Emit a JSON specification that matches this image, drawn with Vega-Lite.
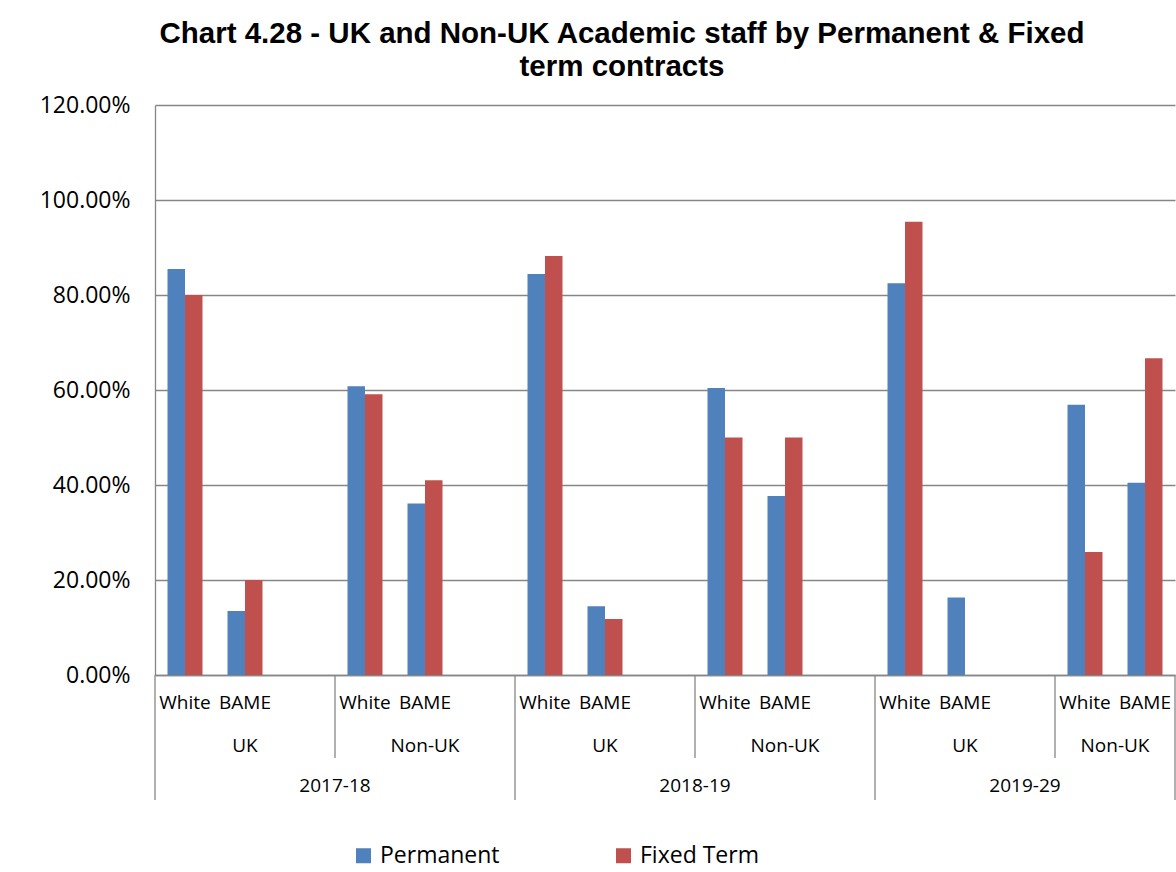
{
  "$schema": "https://vega.github.io/schema/vega-lite/v6.json",
  "width": 1020,
  "height": 570,
  "autosize": {"type": "none"},
  "padding": {"left": 155, "top": 105, "right": 1, "bottom": 197},
  "background": "white",
  "config": {"view": {"stroke": null}, "font": "Open Sans"},
  "title": {
    "text": ["Chart 4.28 - UK and Non-UK Academic staff by Permanent & Fixed", "term contracts"],
    "font": "Liberation Sans",
    "fontSize": 29.5,
    "fontWeight": "bold",
    "lineHeight": 33,
    "color": "black",
    "anchor": "middle",
    "dx": -43,
    "offset": 12
  },
  "datasets": {
    "bars": [
      {"cat": "2017-18|UK|White", "contract": "Permanent", "share": 0.855},
      {"cat": "2017-18|UK|White", "contract": "Fixed Term", "share": 0.800},
      {"cat": "2017-18|UK|BAME", "contract": "Permanent", "share": 0.135},
      {"cat": "2017-18|UK|BAME", "contract": "Fixed Term", "share": 0.200},
      {"cat": "2017-18|Non-UK|White", "contract": "Permanent", "share": 0.608},
      {"cat": "2017-18|Non-UK|White", "contract": "Fixed Term", "share": 0.591},
      {"cat": "2017-18|Non-UK|BAME", "contract": "Permanent", "share": 0.361},
      {"cat": "2017-18|Non-UK|BAME", "contract": "Fixed Term", "share": 0.410},
      {"cat": "2018-19|UK|White", "contract": "Permanent", "share": 0.844},
      {"cat": "2018-19|UK|White", "contract": "Fixed Term", "share": 0.882},
      {"cat": "2018-19|UK|BAME", "contract": "Permanent", "share": 0.145},
      {"cat": "2018-19|UK|BAME", "contract": "Fixed Term", "share": 0.118},
      {"cat": "2018-19|Non-UK|White", "contract": "Permanent", "share": 0.604},
      {"cat": "2018-19|Non-UK|White", "contract": "Fixed Term", "share": 0.500},
      {"cat": "2018-19|Non-UK|BAME", "contract": "Permanent", "share": 0.377},
      {"cat": "2018-19|Non-UK|BAME", "contract": "Fixed Term", "share": 0.500},
      {"cat": "2019-29|UK|White", "contract": "Permanent", "share": 0.825},
      {"cat": "2019-29|UK|White", "contract": "Fixed Term", "share": 0.954},
      {"cat": "2019-29|UK|BAME", "contract": "Permanent", "share": 0.163},
      {"cat": "2019-29|UK|BAME", "contract": "Fixed Term", "share": 0.0},
      {"cat": "2019-29|Non-UK|White", "contract": "Permanent", "share": 0.569},
      {"cat": "2019-29|Non-UK|White", "contract": "Fixed Term", "share": 0.259},
      {"cat": "2019-29|Non-UK|BAME", "contract": "Permanent", "share": 0.405},
      {"cat": "2019-29|Non-UK|BAME", "contract": "Fixed Term", "share": 0.667}
    ],
    "natMid": [
      {"cat": "2017-18|UK|BAME", "label": "UK"},
      {"cat": "2017-18|Non-UK|BAME", "label": "Non-UK"},
      {"cat": "2018-19|UK|BAME", "label": "UK"},
      {"cat": "2018-19|Non-UK|BAME", "label": "Non-UK"},
      {"cat": "2019-29|UK|BAME", "label": "UK"}
    ],
    "natEdge": [
      {"cat": "2019-29|Non-UK|BAME", "label": "Non-UK"}
    ],
    "yearMid": [
      {"cat": "2019-29|UK| ", "label": "2019-29"}
    ],
    "yearEdge": [
      {"cat": "2017-18|Non-UK|White", "label": "2017-18"},
      {"cat": "2018-19|Non-UK|White", "label": "2018-19"}
    ],
    "natSep": [
      {"cat": "2017-18|Non-UK|White"},
      {"cat": "2018-19|Non-UK|White"},
      {"cat": "2019-29|Non-UK|White"}
    ],
    "yearSep": [
      {"cat": "2017-18|UK|White"},
      {"cat": "2018-19|UK|White"},
      {"cat": "2019-29|UK|White"}
    ],
    "endSep": [
      {"cat": "2019-29|Non-UK|BAME"}
    ]
  },
  "layer": [
    {
      "data": {"name": "bars"},
      "mark": {"type": "bar"},
      "encoding": {
        "x": {
          "field": "cat",
          "type": "nominal",
          "sort": null,
          "scale": {
            "domain": [
              "2017-18|UK|White", "2017-18|UK|BAME", "2017-18|UK| ",
              "2017-18|Non-UK|White", "2017-18|Non-UK|BAME", "2017-18|Non-UK| ",
              "2018-19|UK|White", "2018-19|UK|BAME", "2018-19|UK| ",
              "2018-19|Non-UK|White", "2018-19|Non-UK|BAME", "2018-19|Non-UK| ",
              "2019-29|UK|White", "2019-29|UK|BAME", "2019-29|UK| ",
              "2019-29|Non-UK|White", "2019-29|Non-UK|BAME"
            ],
            "paddingInner": 0,
            "paddingOuter": 0
          },
          "axis": {
            "title": null,
            "labelExpr": "split(datum.value, '|')[2]",
            "labelAngle": 0,
            "labelFont": "Open Sans",
            "labelFontSize": 19,
            "labelColor": "black",
            "labelBaseline": "alphabetic",
            "labelPadding": 33,
            "ticks": false,
            "tickSize": 0,
            "domainColor": "#868686",
            "domainWidth": 1.3,
            "grid": false
          }
        },
        "xOffset": {
          "field": "contract",
          "type": "nominal",
          "sort": ["Permanent", "Fixed Term"],
          "scale": {"domain": ["Permanent", "Fixed Term"], "paddingInner": 0, "paddingOuter": 0.714}
        },
        "y": {
          "field": "share",
          "type": "quantitative",
          "scale": {"domain": [0, 1.2], "nice": false},
          "axis": {
            "title": null,
            "format": ".2%",
            "values": [0, 0.2, 0.4, 0.6, 0.8, 1.0, 1.2],
            "grid": true,
            "gridColor": "#868686",
            "gridWidth": 1.3,
            "domainColor": "#868686",
            "domainWidth": 1.3,
            "ticks": false,
            "labelFont": "Open Sans",
            "labelFontSize": 23,
            "labelColor": "black",
            "labelPadding": 25
          }
        },
        "color": {
          "field": "contract",
          "type": "nominal",
          "scale": {"domain": ["Permanent", "Fixed Term"], "range": ["#4F81BD", "#C0504D"]},
          "legend": {
            "orient": "none",
            "legendX": 197,
            "legendY": 739,
            "direction": "horizontal",
            "title": null,
            "symbolType": "square",
            "symbolSize": 225,
            "symbolStrokeWidth": 0,
            "labelFont": "Open Sans",
            "labelFontSize": 23,
            "labelColor": "black",
            "labelOffset": 5,
            "columnPadding": 112,
            "padding": 0
          }
        }
      }
    },
    {
      "data": {"name": "natMid"},
      "mark": {"type": "text", "font": "Open Sans", "fontSize": 19, "color": "black", "baseline": "alphabetic", "dy": 77},
      "encoding": {
        "x": {"field": "cat", "type": "nominal", "bandPosition": 0.5},
        "y": {"datum": 0, "scale": {"domain": [0, 1.2], "nice": false}},
        "text": {"field": "label"}
      }
    },
    {
      "data": {"name": "natEdge"},
      "mark": {"type": "text", "font": "Open Sans", "fontSize": 19, "color": "black", "baseline": "alphabetic", "dy": 77},
      "encoding": {
        "x": {"field": "cat", "type": "nominal", "bandPosition": 0},
        "y": {"datum": 0, "scale": {"domain": [0, 1.2], "nice": false}},
        "text": {"field": "label"}
      }
    },
    {
      "data": {"name": "yearMid"},
      "mark": {"type": "text", "font": "Open Sans", "fontSize": 19, "color": "black", "baseline": "alphabetic", "dy": 117},
      "encoding": {
        "x": {"field": "cat", "type": "nominal", "bandPosition": 0.5},
        "y": {"datum": 0, "scale": {"domain": [0, 1.2], "nice": false}},
        "text": {"field": "label"}
      }
    },
    {
      "data": {"name": "yearEdge"},
      "mark": {"type": "text", "font": "Open Sans", "fontSize": 19, "color": "black", "baseline": "alphabetic", "dy": 117},
      "encoding": {
        "x": {"field": "cat", "type": "nominal", "bandPosition": 0},
        "y": {"datum": 0, "scale": {"domain": [0, 1.2], "nice": false}},
        "text": {"field": "label"}
      }
    },
    {
      "data": {"name": "natSep"},
      "mark": {"type": "rule", "color": "#868686", "strokeWidth": 1.3},
      "encoding": {
        "x": {"field": "cat", "type": "nominal", "bandPosition": 0},
        "y": {"datum": 0, "scale": {"domain": [0, 1.2], "nice": false}},
        "y2": {"datum": -0.1747}
      }
    },
    {
      "data": {"name": "yearSep"},
      "mark": {"type": "rule", "color": "#868686", "strokeWidth": 1.3},
      "encoding": {
        "x": {"field": "cat", "type": "nominal", "bandPosition": 0},
        "y": {"datum": 0, "scale": {"domain": [0, 1.2], "nice": false}},
        "y2": {"datum": -0.263}
      }
    },
    {
      "data": {"name": "endSep"},
      "mark": {"type": "rule", "color": "#868686", "strokeWidth": 1.3},
      "encoding": {
        "x": {"field": "cat", "type": "nominal", "bandPosition": 1},
        "y": {"datum": 0, "scale": {"domain": [0, 1.2], "nice": false}},
        "y2": {"datum": -0.263}
      }
    }
  ]
}
